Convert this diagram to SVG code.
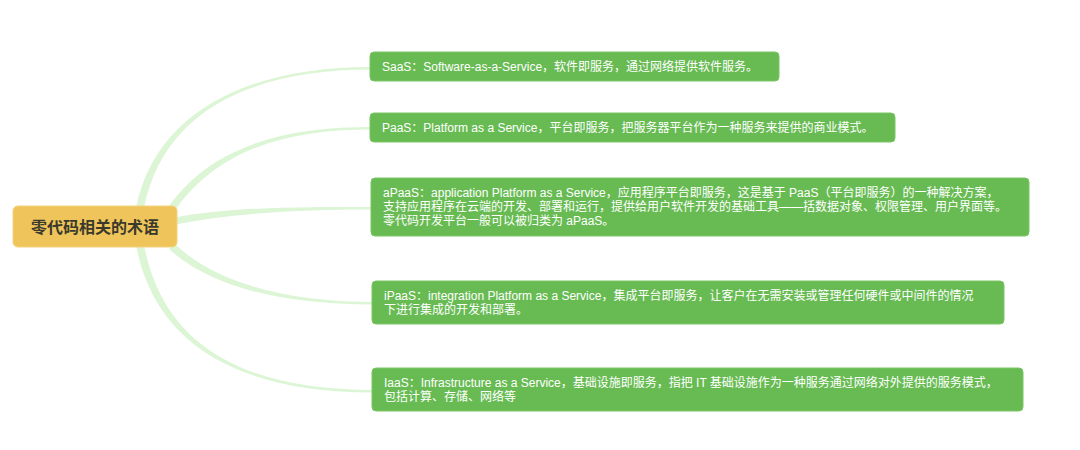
<svg xmlns="http://www.w3.org/2000/svg" width="1080" height="450" viewBox="0 0 1080 450">
<style>
.bg{fill:#ffffff}
.conn{fill:#dbf5d5;stroke:none}
.root{fill:#efc45b;stroke:#f3d27e;stroke-width:1}
.roottext{font-family:"Noto Sans CJK SC","Liberation Sans",sans-serif;font-size:16px;font-weight:bold;fill:#3a3a2c}
.box{fill:#68bb53;stroke:#7cc667;stroke-width:1}
.t{font-family:"Liberation Sans","Noto Sans CJK SC",sans-serif;font-size:12px;fill:#ffffff}
</style>
<rect class="bg" x="0" y="0" width="1080" height="450"/>
<g id="connectors">
<path class="conn" d="M136,208 C156,110 250,67 371,67 L371,69.5 C250,69.5 163,112 144,208 Z"/>
<path class="conn" d="M169,206 C217,139 300,127 371,127 L371,129.5 C300,129.5 223,143 176,209 Z"/>
<path class="conn" d="M172,218 C230,207 300,207 372,207 L372,209.5 C300,209.5 232,213 172,225 Z"/>
<path class="conn" d="M176,245 C222,288 300,302 373,302 L373,304.5 C300,304.5 217,293 169,249 Z"/>
<path class="conn" d="M144,245 C164,350 250,390 373,390 L373,392.5 C250,392.5 156,352 136,245 Z"/>
</g>
<g id="root">
<rect class="root" x="13" y="206" width="164" height="41" rx="5"/>
<text class="roottext" x="95" y="232.5" text-anchor="middle">零代码相关的术语</text>
</g>
<g id="saas">
<rect class="box" x="370" y="52" width="409" height="29" rx="4"/>
<text class="t" x="382" y="70.5">SaaS：Software-as-a-Service，软件即服务，通过网络提供软件服务。</text>
</g>
<g id="paas">
<rect class="box" x="370" y="113" width="525" height="29" rx="4"/>
<text class="t" x="382" y="131.5">PaaS：Platform as a Service，平台即服务，把服务器平台作为一种服务来提供的商业模式。</text>
</g>
<g id="apaas">
<rect class="box" x="371" y="178" width="658" height="58" rx="4"/>
<text class="t" x="383" y="197">aPaaS：application Platform as a Service，应用程序平台即服务，这是基于 PaaS（平台即服务）的一种解决方案，</text>
<text class="t" x="383" y="211">支持应用程序在云端的开发、部署和运行，提供给用户软件开发的基础工具——括数据对象、权限管理、用户界面等。</text>
<text class="t" x="383" y="225">零代码开发平台一般可以被归类为 aPaaS。</text>
</g>
<g id="ipaas">
<rect class="box" x="372" y="281" width="632" height="43" rx="4"/>
<text class="t" x="384" y="300">iPaaS：integration Platform as a Service，集成平台即服务，让客户在无需安装或管理任何硬件或中间件的情况</text>
<text class="t" x="384" y="314">下进行集成的开发和部署。</text>
</g>
<g id="iaas">
<rect class="box" x="372" y="368" width="651" height="43" rx="4"/>
<text class="t" x="384" y="387">IaaS：Infrastructure as a Service，基础设施即服务，指把 IT 基础设施作为一种服务通过网络对外提供的服务模式，</text>
<text class="t" x="384" y="401">包括计算、存储、网络等</text>
</g>
</svg>
